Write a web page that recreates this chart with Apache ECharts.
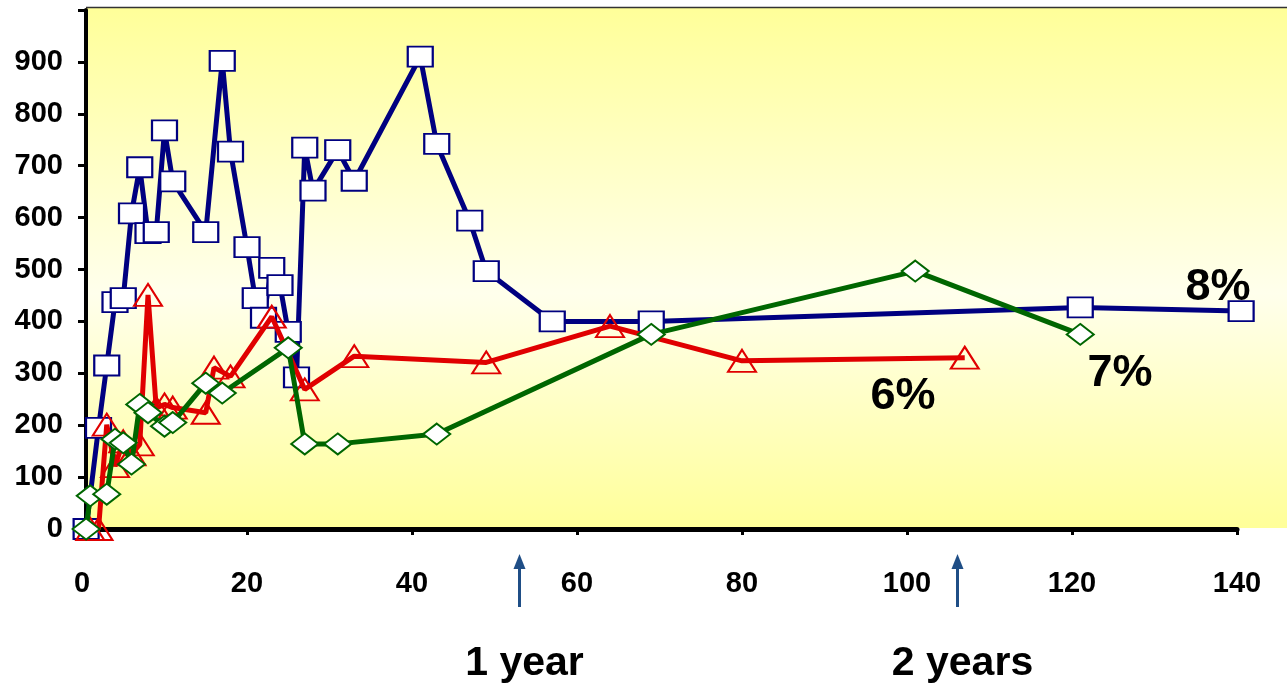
<!DOCTYPE html>
<html>
<head>
<meta charset="utf-8">
<script src="https://cdn.jsdelivr.net/npm/echarts@6/dist/echarts.min.js"></script>
<style>
html,body{margin:0;padding:0;background:#fff;}
#c{width:1287px;height:685px;}
</style>
</head>
<body>
<div id="c"></div>
<script>
// ---- data (weeks vs value) ----
const xTicks = [0, 20, 40, 60, 80, 100, 120, 140];
const yTicks = [0, 100, 200, 300, 400, 500, 600, 700, 800, 900];

const weeks8 = [0.5, 2, 3, 4, 5, 6, 7, 8, 9, 10, 11, 15, 17, 18, 20, 21, 22, 23, 24, 25, 26, 27, 28, 31, 33, 41, 43, 47, 49, 57, 69, 121, 140.5];
const vals8  = [0, 195, 315, 437, 445, 608, 697, 570, 572, 768, 670, 572, 902, 727, 543, 445, 407, 503, 470, 380, 292, 735, 652, 730, 671, 910, 742, 594, 497, 400, 400, 427, 420];

const weeks6 = [1, 2, 3, 4, 5, 6, 7, 8, 9, 10, 11, 15, 16, 18, 23, 27, 33, 49, 64, 80, 107];
const vals6  = [0, 0, 201, 121, 169, 144, 163, 451, 233, 240, 234, 224, 311, 294, 409, 269, 333, 321, 391, 324, 330];

const weeks7 = [0.5, 1, 3, 4, 5, 6, 7, 8, 10, 11, 15, 17, 25, 27, 31, 43, 69, 101, 121];
const vals7  = [0, 64, 67, 173, 166, 125, 240, 224, 198, 205, 281, 262, 349, 164, 164, 183, 375, 497, 375];

const seriesNames = ['8%', '6%', '7%'];
const arrowWeeks = [53, 106];
const arrowTexts = ['1 year', '2 years'];

function pairs(xs, ys) { return xs.map((x, i) => [x, ys[i]]); }

const FONT = "'Liberation Sans', Arial, sans-serif";
const chart = echarts.init(document.getElementById('c'));

const option = {
  animation: false,
  backgroundColor: '#ffffff',
  grid: { left: 82, right: 50, top: 10, bottom: 156, containLabel: false },
  xAxis: {
    type: 'value', min: 0, max: 140, interval: 20,
    axisLine: { show: true, onZero: false, lineStyle: { color: '#000', width: 5 } },
    axisTick: { show: true, inside: false, length: 6, lineStyle: { color: '#000', width: 3 } },
    axisLabel: { margin: 40, color: '#000', fontFamily: FONT, fontWeight: 'bold', fontSize: 29,
      formatter: v => (xTicks.indexOf(v) >= 0 ? String(v) : '') },
    splitLine: { show: false }
  },
  yAxis: {
    type: 'value', min: 0, max: 1000, interval: 100, offset: -4,
    axisLine: { show: true, lineStyle: { color: '#000', width: 4 } },
    axisTick: { show: true, inside: false, length: 8, lineStyle: { color: '#000', width: 3 } },
    axisLabel: {
      margin: 23, color: '#000', fontFamily: FONT, fontWeight: 'bold', fontSize: 29,
      formatter: v => (yTicks.indexOf(v) >= 0 ? String(v) : '')
    },
    splitLine: { show: false }
  },
  series: [
    {
      name: seriesNames[0], type: 'line', data: pairs(weeks8, vals8), clip: false, z: 3,
      symbol: 'rect', symbolSize: [25, 20], showAllSymbol: true,
      lineStyle: { color: '#000080', width: 5 },
      itemStyle: { color: '#ffffff', borderColor: '#000080', borderWidth: 2 }
    },
    {
      name: seriesNames[1], type: 'line', data: pairs(weeks6, vals6), clip: false, z: 4,
      symbol: 'triangle', symbolSize: [28, 22], showAllSymbol: true,
      lineStyle: { color: '#E00000', width: 5 },
      itemStyle: { color: 'rgba(255,255,255,0)', borderColor: '#E00000', borderWidth: 2 }
    },
    {
      name: seriesNames[2], type: 'line', data: pairs(weeks7, vals7), clip: false, z: 5,
      symbol: 'diamond', symbolSize: [27, 21], showAllSymbol: true,
      lineStyle: { color: '#006600', width: 5 },
      itemStyle: { color: '#ffffff', borderColor: '#006600', borderWidth: 2 }
    }
  ]
};
chart.setOption(option);

// decorations
const graphics = [
  {
    type: 'rect', z: -10, silent: true,
    shape: { x: 86, y: 7, width: 1201, height: 521 },
    style: {
      fill: new echarts.graphic.LinearGradient(0, 0, 0, 1, [
        { offset: 0, color: '#FFFF99' },
        { offset: 0.55, color: '#FFFFEC' },
        { offset: 1, color: '#FFFF99' }
      ])
    }
  },
  { type: 'line', z: -9, silent: true, shape: { x1: 86, y1: 7.5, x2: 1287, y2: 7.5 }, style: { stroke: '#333', lineWidth: 1.5 } },
  { type: 'text', z: 10, style: { x: 1218, y: 288, text: '8%', font: "bold 45px " + FONT, fill: '#000', align: 'center', verticalAlign: 'middle' } },
  { type: 'text', z: 10, style: { x: 1120, y: 374, text: '7%', font: "bold 45px " + FONT, fill: '#000', align: 'center', verticalAlign: 'middle' } },
  { type: 'text', z: 10, style: { x: 903, y: 397, text: '6%', font: "bold 45px " + FONT, fill: '#000', align: 'center', verticalAlign: 'middle' } }
];
arrowWeeks.forEach((w, i) => {
  const px = Math.round(chart.convertToPixel({ xAxisIndex: 0 }, w)) + 0.5;
  graphics.push({ type: 'line', silent: true, shape: { x1: px, y1: 607, x2: px, y2: 566 }, style: { stroke: '#1F4E86', lineWidth: 3 } });
  graphics.push({ type: 'polygon', silent: true, shape: { points: [[px - 6, 569], [px + 6, 569], [px, 554]] }, style: { fill: '#1F4E86' } });
  graphics.push({ type: 'text', style: { x: px + 5, y: 664, text: arrowTexts[i], font: "bold 41px " + FONT, fill: '#000', align: 'center', verticalAlign: 'middle' } });
});
chart.setOption({ graphic: graphics });
</script>
</body>
</html>
